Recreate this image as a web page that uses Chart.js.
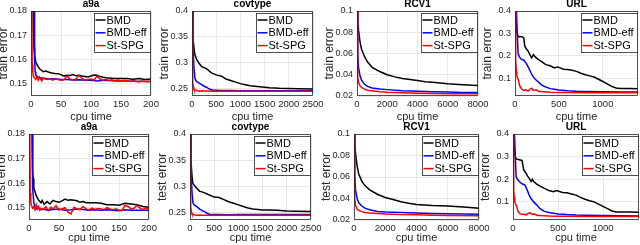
<!DOCTYPE html>
<html>
<head>
<meta charset="utf-8">
<script src="https://cdn.jsdelivr.net/npm/chart.js@4/dist/chart.umd.min.js"></script>
<style>
body { margin: 0; background: #fff; width: 640px; height: 245px; overflow: hidden; position: relative; }
canvas { position: absolute; }
</style>
</head>
<body>
<script>
const NAMES = ['BMD', 'BMD-eff', 'St-SPG'];
const COLORS = ['#000000', '#0000ff', '#ff0000'];

// tick values
const a9aXTicks = [0, 50, 100, 150, 200];
const a9aYTicks = [0.15, 0.16, 0.17, 0.18];
const covXTicks = [0, 500, 1000, 1500, 2000, 2500];
const covYTicks = [0.25, 0.3, 0.35, 0.4];
const rcvXTicks = [0, 2000, 4000, 6000, 8000];
const rcvYTicks = [0.02, 0.04, 0.06, 0.08, 0.1];
const urlXTicks = [0, 500, 1000];
const urlYTicks = [0.1, 0.2, 0.3, 0.4];

// a9a train
const a9aTrBmdX = [3,4,5,6,8,10,12,15,18,20,25,30,35,40,45,50,55,60,65,70,75,80,85,90,95,100,105,110,115,120,125,130,140,150,160,170,180,190,200];
const a9aTrBmdY = [0.19,0.172,0.165,0.162,0.159,0.158,0.157,0.156,0.1555,0.155,0.1553,0.1548,0.1545,0.1543,0.1542,0.1538,0.1532,0.1535,0.1534,0.1538,0.1533,0.1535,0.1532,0.153,0.1528,0.1532,0.1536,0.1535,0.153,0.1527,0.1525,0.1524,0.1522,0.1522,0.1522,0.1519,0.1522,0.1518,0.152];
const a9aTrEffX = [5,6,7,8,10,12,15,20,25,30,40,50,60,70,80,90,100,110,120,130,140,150,160,170,180,190,200];
const a9aTrEffY = [0.19,0.16,0.155,0.1535,0.153,0.1528,0.1525,0.1522,0.1522,0.152,0.1521,0.1518,0.1518,0.1516,0.1517,0.1515,0.1515,0.1512,0.1515,0.1514,0.1512,0.1512,0.1512,0.1511,0.1511,0.151,0.151];
const a9aSpgX = [1,2,3,4,6,8,10,12,14,16,18,20,24,28,32,36,40,45,50,55,60,65,70,75,80,85,90,95,100,105,110,115,120,125,130,135,140,145,150,155,160,165,170,175,180,185,190,195,200];
const a9aTrSpgY = [0.19,0.158,0.155,0.153,0.1525,0.1518,0.153,0.1515,0.1528,0.152,0.1512,0.1525,0.152,0.1518,0.1522,0.1515,0.152,0.1518,0.1515,0.1517,0.1532,0.152,0.1515,0.152,0.1535,0.1522,0.1515,0.1518,0.152,0.1515,0.1532,0.152,0.1515,0.1518,0.1514,0.1517,0.1513,0.1516,0.1512,0.1515,0.1514,0.151,0.1513,0.151,0.1508,0.1512,0.151,0.1511,0.151];

// a9a test
const a9aTeBmdX = [5,6,7,8,10,12,15,18,20,22,25,28,30,35,40,45,50,55,60,65,70,75,80,85,90,95,100,110,120,130,140,150,160,170,180,190,200];
const a9aTeBmdY = [0.19,0.165,0.162,0.158,0.1565,0.155,0.1535,0.1525,0.152,0.153,0.1515,0.152,0.1525,0.1515,0.153,0.1525,0.1522,0.1528,0.1535,0.153,0.1532,0.153,0.1528,0.1522,0.1525,0.152,0.152,0.152,0.1518,0.1512,0.1512,0.151,0.1518,0.1515,0.1512,0.1505,0.1502];
const a9aTeEffX = [5,6,8,10,12,15,20,25,30,40,50,60,70,80,90,100,110,120,130,140,150,160,170,180,190,200];
const a9aTeEffY = [0.19,0.158,0.152,0.1505,0.1495,0.1498,0.1492,0.1495,0.149,0.1493,0.1495,0.149,0.1492,0.1495,0.1493,0.149,0.1492,0.149,0.1492,0.149,0.1488,0.1492,0.149,0.149,0.149,0.149];
const a9aTeSpgY = [0.19,0.156,0.152,0.151,0.1498,0.1505,0.1492,0.1512,0.1495,0.1505,0.149,0.1498,0.1492,0.1505,0.1488,0.1502,0.1495,0.1508,0.149,0.1495,0.15,0.1482,0.1475,0.1502,0.1495,0.1492,0.1505,0.1495,0.149,0.1498,0.1493,0.1497,0.1495,0.1492,0.15,0.1495,0.1492,0.1496,0.149,0.1488,0.151,0.1505,0.1495,0.1498,0.151,0.1498,0.1492,0.15,0.1488];

// covtype train
const covTrBmdX = [0,20,40,60,100,150,200,250,300,350,400,450,500,550,600,650,700,800,900,1000,1100,1200,1300,1400,1500,1600,1800,2000,2200,2500];
const covTrBmdY = [0.4,0.345,0.33,0.315,0.305,0.298,0.292,0.29,0.288,0.284,0.28,0.278,0.276,0.275,0.274,0.271,0.268,0.265,0.262,0.259,0.257,0.255,0.254,0.253,0.252,0.251,0.25,0.2495,0.249,0.2485];
const covTrEffX = [0,20,40,60,80,100,150,200,250,300,350,400,450,500,600,800,1000,1500,2000,2500];
const covTrEffY = [0.4,0.33,0.29,0.27,0.265,0.263,0.26,0.257,0.254,0.252,0.249,0.247,0.246,0.246,0.2455,0.2455,0.245,0.245,0.245,0.245];
const covSpgX = [0,10,20,30,40,60,80,100,150,200,250,300,400,500,600,800,1000,1200,1500,1800,2000,2200,2500];
const covTrSpgY = [0.4,0.3,0.26,0.252,0.248,0.247,0.245,0.246,0.244,0.245,0.2445,0.2445,0.244,0.2445,0.244,0.2445,0.244,0.2442,0.244,0.2443,0.244,0.2442,0.244];

// covtype test
const covTeBmdX = [0,20,40,60,100,150,200,250,300,400,500,600,700,800,900,1000,1100,1200,1300,1400,1500,1600,1800,2000,2200,2500];
const covTeBmdY = [0.4,0.35,0.32,0.305,0.3,0.295,0.29,0.289,0.287,0.283,0.279,0.278,0.274,0.27,0.267,0.264,0.261,0.258,0.256,0.255,0.254,0.254,0.2535,0.2525,0.252,0.2515];
const covTeEffX = [0,20,40,60,80,100,150,200,250,300,350,400,500,600,800,1000,1500,2000,2500];
const covTeEffY = [0.4,0.33,0.29,0.268,0.265,0.263,0.26,0.256,0.253,0.251,0.248,0.246,0.2455,0.2455,0.245,0.2455,0.2455,0.2455,0.2455];
const covTeSpgY = [0.4,0.3,0.26,0.25,0.247,0.246,0.245,0.2445,0.244,0.2445,0.244,0.2443,0.244,0.2442,0.244,0.2443,0.244,0.2442,0.244,0.2443,0.244,0.2442,0.244];

// RCV1 train
const rcvTrBmdX = [0,50,100,200,300,500,700,1000,1500,2000,2500,3000,3500,4000,4500,5000,6000,7000,8000];
const rcvTrBmdY = [0.1,0.09,0.082,0.071,0.064,0.057,0.052,0.047,0.043,0.04,0.038,0.0365,0.0355,0.0345,0.0335,0.033,0.0315,0.0305,0.0298];
const rcvTrEffX = [0,50,100,200,300,500,700,1000,1500,2000,3000,4000,5000,6000,7000,8000];
const rcvTrEffY = [0.1,0.06,0.047,0.039,0.035,0.031,0.029,0.0275,0.0265,0.026,0.025,0.0245,0.024,0.0237,0.0234,0.0232];
const rcvTrSpgX = [0,30,60,100,200,300,500,700,1000,1500,2000,3000,4000,5000,6000,7000,8000];
const rcvTrSpgY = [0.1,0.05,0.038,0.033,0.0295,0.028,0.0265,0.0255,0.025,0.024,0.0235,0.023,0.0225,0.0223,0.0222,0.0221,0.022];

// RCV1 test
const rcvTeBmdX = [0,50,100,200,300,500,700,1000,1500,2000,2500,3000,3500,4000,5000,6000,7000,8000];
const rcvTeBmdY = [0.1,0.09,0.082,0.07,0.063,0.056,0.052,0.048,0.044,0.041,0.039,0.037,0.0355,0.0345,0.0335,0.033,0.032,0.031];
const rcvTeEffX = [0,50,100,200,300,500,700,1000,1500,2000,3000,4000,5000,6000,8000];
const rcvTeEffY = [0.1,0.06,0.048,0.04,0.036,0.033,0.031,0.0295,0.028,0.0275,0.027,0.0265,0.026,0.0258,0.0253];
const rcvTeSpgX = [0,30,60,100,200,300,500,700,1000,1500,2000,3000,4000,5000,6000,8000];
const rcvTeSpgY = [0.1,0.05,0.04,0.034,0.03,0.029,0.0278,0.027,0.0265,0.026,0.0255,0.025,0.0248,0.0245,0.0243,0.024];

// URL train
const urlTrBmdX = [8,15,25,35,50,80,100,110,130,150,170,190,210,230,260,300,350,400,450,480,500,550,600,650,700,750,800,850,900,950,1000,1050,1100,1150,1200,1300,1400];
const urlTrBmdY = [0.42,0.34,0.3,0.285,0.285,0.285,0.28,0.245,0.23,0.22,0.205,0.19,0.205,0.195,0.185,0.175,0.16,0.155,0.145,0.15,0.148,0.14,0.138,0.135,0.13,0.122,0.115,0.11,0.105,0.095,0.085,0.074,0.063,0.056,0.054,0.053,0.052];
const urlEffX = [15,25,35,50,70,100,130,150,180,200,230,260,300,350,400,450,500,600,700,800,1000,1200,1400];
const urlTrEffY = [0.42,0.3,0.21,0.195,0.185,0.18,0.165,0.15,0.125,0.11,0.095,0.085,0.07,0.06,0.053,0.05,0.047,0.043,0.041,0.04,0.039,0.038,0.038];
const urlSpgX = [0,5,10,15,20,30,40,50,60,80,100,120,150,170,190,210,240,270,300,400,500,600,800,1000,1200,1400];
const urlTrSpgY = [0.42,0.26,0.18,0.13,0.11,0.1,0.09,0.07,0.06,0.05,0.045,0.048,0.042,0.05,0.055,0.045,0.048,0.04,0.04,0.037,0.036,0.036,0.035,0.035,0.035,0.035];

// URL test
const urlTeBmdX = [8,15,25,35,50,80,100,120,140,160,180,200,215,230,260,300,350,400,450,480,500,550,600,650,700,750,800,850,900,950,1000,1050,1100,1150,1200,1300,1400];
const urlTeBmdY = [0.42,0.34,0.3,0.29,0.288,0.285,0.283,0.24,0.23,0.215,0.205,0.19,0.2,0.19,0.18,0.17,0.16,0.15,0.145,0.15,0.148,0.142,0.14,0.135,0.13,0.12,0.112,0.105,0.1,0.09,0.08,0.07,0.06,0.055,0.055,0.055,0.054];
const urlTeEffY = [0.42,0.3,0.21,0.2,0.19,0.18,0.175,0.16,0.13,0.115,0.1,0.088,0.07,0.058,0.053,0.05,0.047,0.044,0.042,0.041,0.04,0.039,0.038];
const urlTeSpgY = [0.42,0.2,0.15,0.12,0.1,0.09,0.08,0.065,0.055,0.047,0.045,0.045,0.042,0.05,0.052,0.045,0.046,0.04,0.04,0.038,0.037,0.037,0.036,0.036,0.036,0.036];

Chart.defaults.font.family = "'Liberation Sans', Arial, Helvetica, sans-serif";
Chart.defaults.color = '#262626';

const FONT = "'Liberation Sans', Arial, Helvetica, sans-serif";

// box, title and in-plot legend (MATLAB style)
const panelDeco = {
  id: 'panelDeco',
  afterDraw(chart, args, opts) {
    const ctx = chart.ctx;
    const a = chart.chartArea;
    ctx.save();
    ctx.strokeStyle = '#262626';
    ctx.lineWidth = 0.8;
    ctx.strokeRect(Math.round(a.left) + 0.5, Math.round(a.top) + 0.5,
      Math.round(a.right - a.left) - 1, Math.round(a.bottom - a.top) - 1);

    ctx.fillStyle = '#000';
    ctx.font = 'bold 10px ' + FONT;
    ctx.textAlign = 'center';
    ctx.textBaseline = 'middle';
    ctx.fillText(opts.title, (a.left + a.right) / 2, a.top - 6.5);

    ctx.font = '11px ' + FONT;
    let tw = 0;
    NAMES.forEach(n => { tw = Math.max(tw, ctx.measureText(n).width); });
    const bw = 14 + tw + 2, bh = 39;
    const bx = Math.round(a.right - 1 - bw) + 0.5, by = Math.round(a.top + 2) + 0.5;
    ctx.fillStyle = '#fff';
    ctx.fillRect(bx, by, bw, bh);
    ctx.strokeStyle = '#262626';
    ctx.lineWidth = 0.8;
    ctx.strokeRect(bx, by, bw, bh);
    ctx.textAlign = 'left';
    NAMES.forEach((n, i) => {
      const yy = by + 6.5 + i * 12.8;
      ctx.strokeStyle = COLORS[i];
      ctx.lineWidth = 1.5;
      ctx.beginPath();
      ctx.moveTo(bx + 1, yy);
      ctx.lineTo(bx + 11, yy);
      ctx.stroke();
      ctx.fillStyle = '#000';
      ctx.fillText(n, bx + 12, yy + 0.5);
    });
    ctx.restore();
  }
};

function panel(p) {
  const padTop = 12, yW = 33, padR = 14;
  const c = document.createElement('canvas');
  c.width = p.w + yW + padR;
  c.height = p.h + padTop + p.xH;
  c.style.left = (p.l - yW) + 'px';
  c.style.top = (p.t - padTop) + 'px';
  document.body.appendChild(c);
  new Chart(c, {
    type: 'line',
    data: {
      datasets: p.series.map((s, i) => ({
        label: NAMES[i],
        data: s[0].map((x, j) => ({ x: x, y: s[1][j] })),
        borderColor: COLORS[i],
        borderWidth: 1.5,
        pointRadius: 0,
        tension: 0,
        fill: false,
        clip: 0,
        order: 2 - i
      }))
    },
    options: {
      responsive: false,
      animation: false,
      devicePixelRatio: 1,
      layout: { padding: { top: padTop, right: padR, left: 0, bottom: 0 } },
      plugins: {
        legend: { display: false },
        tooltip: { enabled: false },
        panelDeco: { title: p.title }
      },
      scales: {
        x: {
          type: 'linear',
          min: 0,
          max: p.xMax,
          afterBuildTicks: s => { s.ticks = p.xTicks.map(v => ({ value: v })); },
          afterFit: s => { s.height = p.xH; },
          grid: { color: '#e8e8e8', drawTicks: false },
          border: { display: false },
          ticks: { font: { size: 9.5 }, padding: 3, maxRotation: 0, autoSkip: false, callback: v => String(v) },
          title: { display: true, text: 'cpu time', font: { size: 11 }, padding: 0 }
        },
        y: {
          type: 'linear',
          min: p.yMin,
          max: p.yMax,
          afterBuildTicks: s => { s.ticks = p.yTicks.map(v => ({ value: v })); },
          afterFit: s => { s.width = yW; },
          grid: { color: '#e8e8e8', drawTicks: false },
          border: { display: false },
          ticks: { font: { size: 9 }, padding: 4, autoSkip: false, callback: v => String(v) },
          title: { display: true, text: p.yLabel, font: { size: 12, lineHeight: 1 }, padding: 0 }
        }
      }
    },
    plugins: [panelDeco]
  });
}

const TOP = { t: 11, h: 85, xH: 28 };
const BOT = { t: 134, h: 86, xH: 25 };

panel({ ...TOP, l: 31, w: 120, title: 'a9a', yLabel: 'train error', xMax: 200, yMin: 0.145, yMax: 0.18,
  xTicks: a9aXTicks, yTicks: a9aYTicks,
  series: [[a9aTrBmdX, a9aTrBmdY], [a9aTrEffX, a9aTrEffY], [a9aSpgX, a9aTrSpgY]] });
panel({ ...TOP, l: 192, w: 121, title: 'covtype', yLabel: 'train error', xMax: 2500, yMin: 0.235, yMax: 0.4,
  xTicks: covXTicks, yTicks: covYTicks,
  series: [[covTrBmdX, covTrBmdY], [covTrEffX, covTrEffY], [covSpgX, covTrSpgY]] });
panel({ ...TOP, l: 357, w: 121, title: 'RCV1', yLabel: 'train error', xMax: 8000, yMin: 0.02, yMax: 0.1,
  xTicks: rcvXTicks, yTicks: rcvYTicks,
  series: [[rcvTrBmdX, rcvTrBmdY], [rcvTrEffX, rcvTrEffY], [rcvTrSpgX, rcvTrSpgY]] });
panel({ ...TOP, l: 515, w: 123, title: 'URL', yLabel: 'train error', xMax: 1400, yMin: 0.02, yMax: 0.4,
  xTicks: urlXTicks, yTicks: urlYTicks,
  series: [[urlTrBmdX, urlTrBmdY], [urlEffX, urlTrEffY], [urlSpgX, urlTrSpgY]] });

panel({ ...BOT, l: 29, w: 120, title: 'a9a', yLabel: 'test error', xMax: 200, yMin: 0.145, yMax: 0.18,
  xTicks: a9aXTicks, yTicks: a9aYTicks,
  series: [[a9aTeBmdX, a9aTeBmdY], [a9aTeEffX, a9aTeEffY], [a9aSpgX, a9aTeSpgY]] });
panel({ ...BOT, l: 190, w: 121, title: 'covtype', yLabel: 'test error', xMax: 2500, yMin: 0.235, yMax: 0.4,
  xTicks: covXTicks, yTicks: covYTicks,
  series: [[covTeBmdX, covTeBmdY], [covTeEffX, covTeEffY], [covSpgX, covTeSpgY]] });
panel({ ...BOT, l: 354, w: 125, title: 'RCV1', yLabel: 'test error', xMax: 8000, yMin: 0.02, yMax: 0.1,
  xTicks: rcvXTicks, yTicks: rcvYTicks,
  series: [[rcvTeBmdX, rcvTeBmdY], [rcvTeEffX, rcvTeEffY], [rcvTeSpgX, rcvTeSpgY]] });
panel({ ...BOT, l: 513, w: 126, title: 'URL', yLabel: 'test error', xMax: 1400, yMin: 0.02, yMax: 0.4,
  xTicks: urlXTicks, yTicks: urlYTicks,
  series: [[urlTeBmdX, urlTeBmdY], [urlEffX, urlTeEffY], [urlSpgX, urlTeSpgY]] });
</script>
</body>
</html>
